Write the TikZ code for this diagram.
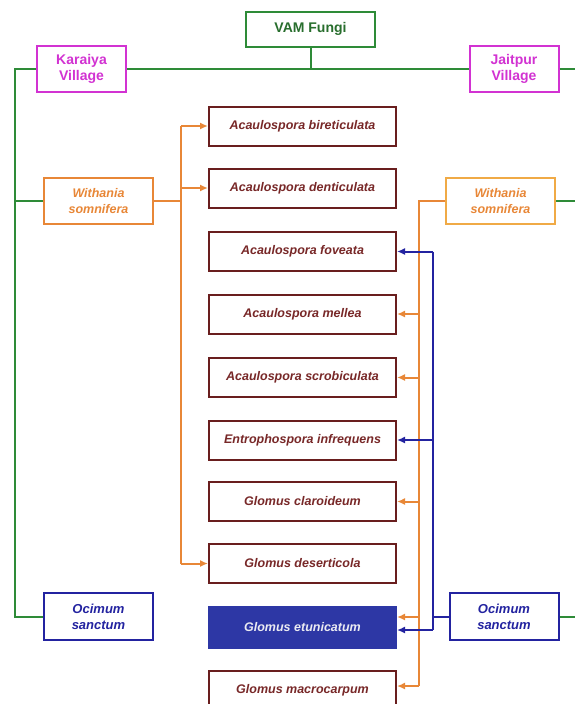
\documentclass[tikz,border=0pt]{standalone}
\usepackage{fontspec}
\setmainfont{Liberation Sans}
\usetikzlibrary{arrows.meta}
\definecolor{vgreen}{RGB}{46,139,56}
\definecolor{vtext}{RGB}{40,110,45}
\definecolor{vmag}{RGB}{210,50,210}
\definecolor{vorange}{RGB}{232,135,55}
\definecolor{vorange2}{RGB}{240,170,70}
\definecolor{vbrown}{RGB}{105,30,30}
\definecolor{vbrtext}{RGB}{120,40,40}
\definecolor{vblue}{RGB}{35,35,160}
\definecolor{vfill}{RGB}{45,55,165}
\begin{document}
\begin{tikzpicture}[x=1pt,y=-1pt,
  basebox/.style={draw,rectangle,line width=2pt,inner sep=0pt,align=center,fill=white},
  topbox/.style={basebox,draw=vgreen,text=vtext,minimum width=129pt,minimum height=35pt,font=\fontsize{14}{16}\selectfont\bfseries},
  villbox/.style={basebox,draw=vmag,text=vmag,minimum width=89pt,minimum height=46pt,font=\fontsize{14}{16}\selectfont\bfseries},
  withbox/.style={basebox,draw=vorange,text=vorange,minimum width=109pt,minimum height=46pt,font=\fontsize{12.5}{16}\selectfont\bfseries\itshape},
  ocibox/.style={basebox,draw=vblue,text=vblue,minimum width=109pt,minimum height=47pt,font=\fontsize{13}{16}\selectfont\bfseries\itshape},
  spbox/.style={basebox,draw=vbrown,text=vbrtext,minimum width=187pt,minimum height=39pt,font=\fontsize{12.5}{15}\selectfont\bfseries\itshape},
  gline/.style={draw=vgreen,line width=2pt},
  oline/.style={draw=vorange,line width=2pt},
  bline/.style={draw=vblue,line width=2pt},
  arr/.style={-{Latex[length=8pt,width=7pt]}}
]
\useasboundingbox (0,0) rectangle (574,704);

% nodes
\node[topbox] (vam) at (310.5,29) {VAM Fungi};
\node[villbox] (kar) at (81.5,68.5) {Karaiya\\Village};
\node[villbox] (jai) at (514,68.5) {Jaitpur\\Village};
\node[withbox] (wl) at (98.5,201) {Withania\\somnifera};
\node[withbox,draw=vorange2] (wr) at (500.5,201) {Withania\\somnifera};
\node[ocibox] (ol) at (98.5,616.5) {Ocimum\\sanctum};
\node[ocibox] (or) at (504,616.5) {Ocimum\\sanctum};

\node[spbox] (s1) at (302.5,126) {Acaulospora bireticulata};
\node[spbox] (s2) at (302.5,188) {Acaulospora denticulata};
\node[spbox] (s3) at (302.5,251.5) {Acaulospora foveata};
\node[spbox] (s4) at (302.5,314) {Acaulospora mellea};
\node[spbox] (s5) at (302.5,377.5) {Acaulospora scrobiculata};
\node[spbox] (s6) at (302.5,440) {Entrophospora infrequens};
\node[spbox] (s7) at (302.5,501.5) {Glomus claroideum};
\node[spbox] (s8) at (302.5,563.5) {Glomus deserticola};
\node[spbox,draw=vfill,fill=vfill,text={rgb,255:red,235;green,235;blue,242},minimum height=41pt] (s9) at (302.5,627.5) {Glomus etunicatum};
\node[spbox] (s10) at (302.5,690) {Glomus macrocarpum};

% coordinates
\coordinate (gtop) at (15,68.5);
\coordinate (gbot) at (15,616.5);
\coordinate (gre1) at (576,68.5);
\coordinate (gre2) at (576,201);
\coordinate (gre3) at (576,616.5);
\coordinate (lt) at (181,0);
\coordinate (rt) at (419,0);
\coordinate (bt) at (433,0);
\coordinate (oe9) at (397,617);
\coordinate (be9) at (397,630);
\coordinate (oe10) at (397,686);

% green connectors
\draw[gline] (vam.south) -- (vam.south |- kar.east);
\draw[gline] (kar.east) -- (jai.west);
\draw[gline] (jai.east) -- (gre1);
\draw[gline,line join=miter] (kar.west) -- (gtop) -- (gbot) -- (ol.west);
\draw[gline] (gtop |- wl.west) -- (wl.west);
\draw[gline] (wr.east) -- (gre2);
\draw[gline] (or.east) -- (gre3);

% orange left
\draw[oline] (wl.east) -- (lt |- wl.east);
\draw[oline] (lt |- s1.west) -- (lt |- s8.west);
\draw[oline,arr] (lt |- s1.west) -- (s1.west);
\draw[oline,arr] (lt |- s2.west) -- (s2.west);
\draw[oline,arr] (lt |- s8.west) -- (s8.west);

% orange right
\draw[oline] (wr.west) -- (rt |- wr.west) -- (rt |- oe10);
\draw[oline,arr] (rt |- s4.east) -- (s4.east);
\draw[oline,arr] (rt |- s5.east) -- (s5.east);
\draw[oline,arr] (rt |- s7.east) -- (s7.east);
\draw[oline,arr] (rt |- oe9) -- (oe9);
\draw[oline,arr] (rt |- oe10) -- (oe10);

% blue
\draw[bline] (or.west) -- (bt |- or.west);
\draw[bline] (bt |- s3.east) -- (bt |- be9);
\draw[bline,arr] (bt |- s3.east) -- (s3.east);
\draw[bline,arr] (bt |- s6.east) -- (s6.east);
\draw[bline,arr] (bt |- be9) -- (be9);
\end{tikzpicture}
\end{document}
